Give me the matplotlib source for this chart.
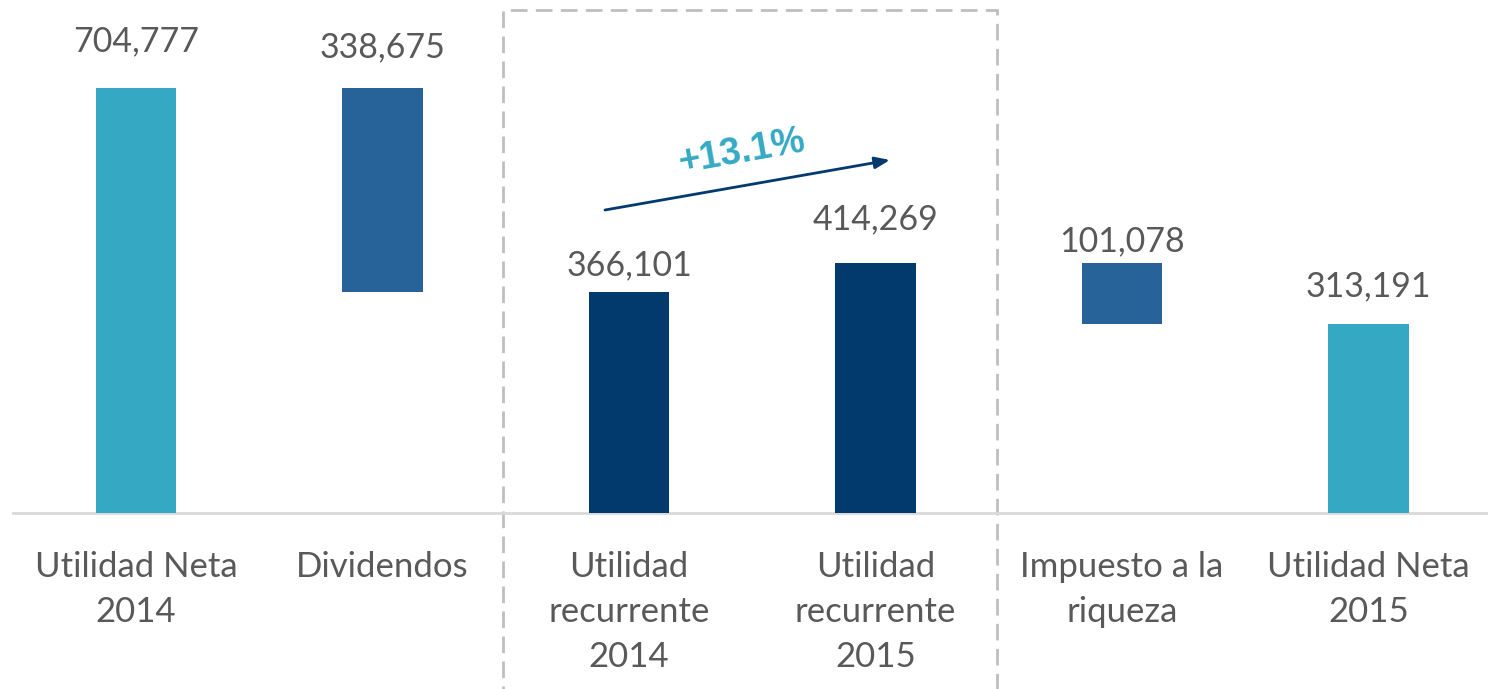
import matplotlib.pyplot as plt
from matplotlib.patches import Rectangle

# ====================== Data ======================
categories = ["Utilidad Neta\n2014", "Dividendos", "Utilidad\nrecurrente\n2014",
              "Utilidad\nrecurrente\n2015", "Impuesto a la\nriqueza", "Utilidad Neta\n2015"]
values = [704777, 338675, 366101, 414269, 101078, 313191]
# bar bottoms (waterfall): floating bars start where the total lands
bottoms = [0, 704777 - 338675, 0, 0, 414269 - 101078, 0]
value_labels = ["704,777", "338,675", "366,101", "414,269", "101,078", "313,191"]
growth_label = "+13.1%"

teal = "#35A9C4"
mid_blue = "#276298"
navy = "#033A6E"
bar_colors = [teal, mid_blue, navy, navy, mid_blue, teal]
label_offsets = [22, 18, 8, 20, 4, 16]  # points above bar top

# ====================== Figure ======================
W, H = 1488, 689
fig = plt.figure(figsize=(W / 100, H / 100), dpi=100)
ax = fig.add_axes([0, 0, 1, 1])

# pixel mapping: bar centers at 136 + 246.5*i, baseline at y=513 px from top
x0, step = 136, 246.5
base_px, scale = 513, 425 / 704777
ax.set_xlim(-x0 / step, (W - x0) / step)
ax.set_ylim(-(H - base_px) / scale, base_px / scale)
ax.axis("off")

font = "Lato"
text_color = "#595959"

xs = list(range(len(categories)))
ax.bar(xs, values, bottom=bottoms, width=0.325, color=bar_colors, zorder=3)

# baseline
ax.plot([(13 - x0) / step, (W - x0) / step], [0, 0], color="#D9D9D9", lw=2, zorder=2)

# value labels
for x, v, b, lab, off in zip(xs, values, bottoms, value_labels, label_offsets):
    ax.annotate(lab, (x, v + b), xytext=(0, off), textcoords="offset points",
                ha="center", va="bottom", fontsize=24.5, color=text_color, family=font)

# category labels
for x, cat in zip(xs, categories):
    ax.text(x, -(551 - base_px) / scale, cat, ha="center", va="top", fontsize=25,
            color=text_color, family=font, linespacing=1.5)

# dashed box around recurrent profits
def px(xp, yp):
    return (xp - x0) / step, (base_px - yp) / scale

bx0, by0 = px(503, 700)
bx1, by1 = px(997, 10)
ax.add_patch(Rectangle((bx0, by0), bx1 - bx0, by1 - by0, fill=False,
                       edgecolor="#BFBFBF", lw=2, ls=(0, (6, 3)), zorder=1))

# growth arrow
ax.annotate("", xy=px(890, 160), xytext=px(605, 210),
            arrowprops=dict(arrowstyle="-|>,head_length=0.9,head_width=0.35",
                            color=navy, lw=2, shrinkA=0, shrinkB=0))
gx, gy = px(742, 152)
ax.text(gx, gy, growth_label, ha="center", va="center", rotation=10,
        fontsize=27, fontweight="bold", color=teal, family="Liberation Sans")

fig.savefig("out.png", dpi=100)
